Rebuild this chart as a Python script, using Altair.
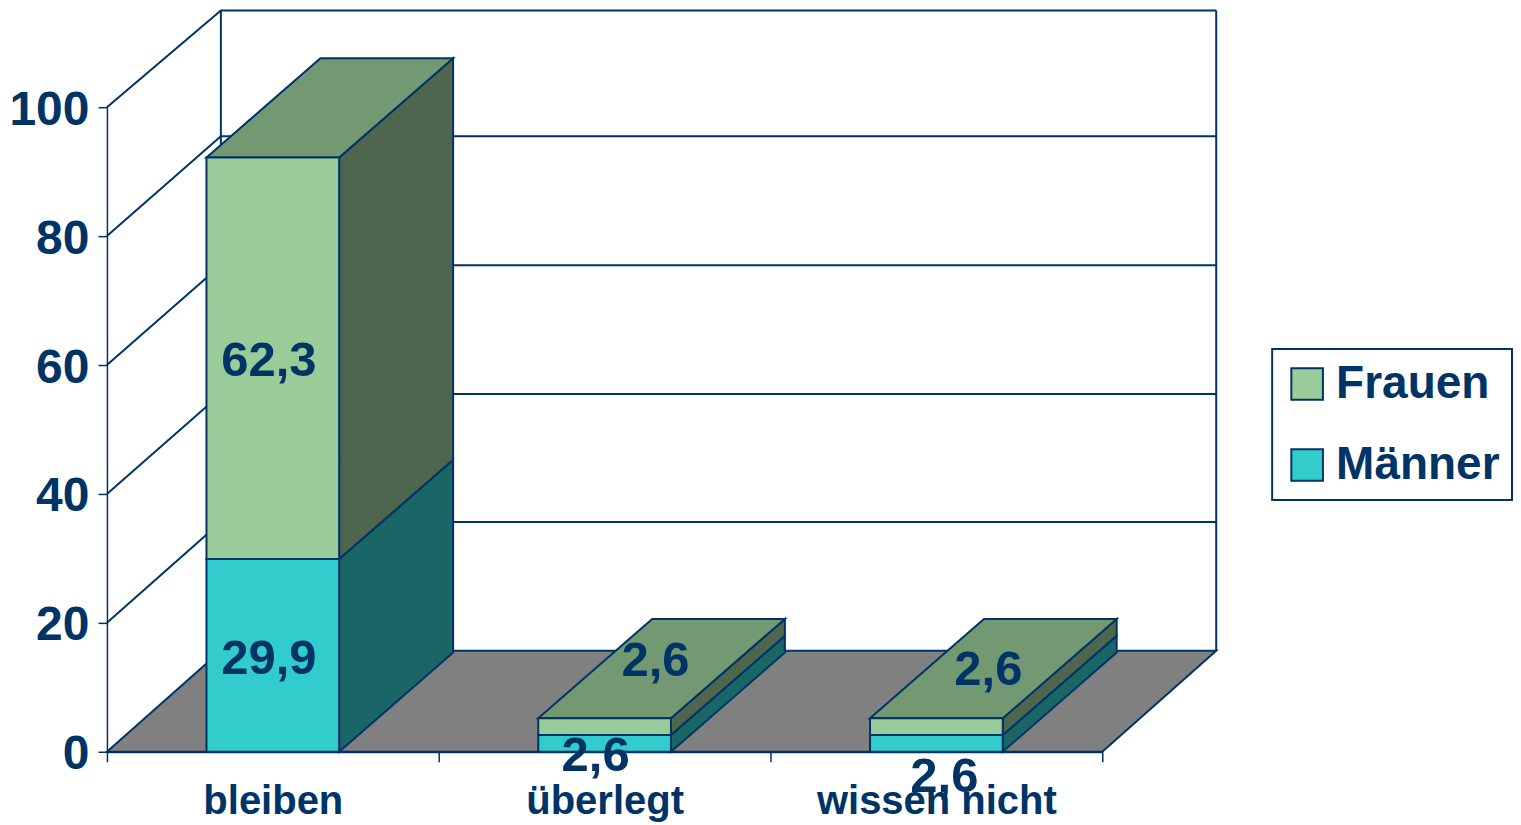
import altair as alt
import pandas as pd

categories = ["bleiben", "überlegt", "wissen nicht"]
series_names = ["Frauen", "Männer"]
maenner = [29.9, 2.6, 2.6]
frauen = [62.3, 2.6, 2.6]
label_text = ["62,3", "29,9", "2,6", "2,6", "2,6", "2,6"]

y_ticks = [0, 20, 40, 60, 80, 100]
wall_levels = [15.66, 35.66, 55.5, 75.5, 95.5, 115.0]
left_levels = [0, 20, 40, 60, 80, 100]

# pseudo-3D projection, in data units
DEPTH_X = 0.3434
DEPTH_Y = 15.4
BAR_HALF = 0.2
N = len(categories)

NAVY = "#003366"
FONT = "Liberation Sans"
front_colors = ["#99CC99", "#33CCCC"]
side_colors = {"Frauen": "#4D664D", "Männer": "#1A6666"}
top_color = "#739973"
floor_color = "#808080"

front, side, top = [], [], []
for i, cat in enumerate(categories):
    c = i + 0.5
    x0, x1 = c - BAR_HALF, c + BAR_HALF
    for name, lo, hi in (("Männer", 0, maenner[i]), ("Frauen", maenner[i], maenner[i] + frauen[i])):
        front.append(dict(series=name, x=x0, x2=x1, y=lo, y2=hi))
        side.append(dict(id=f"{i}{name}", series=name, x=x1, y=lo, y2=hi))
        side.append(dict(id=f"{i}{name}", series=name, x=x1 + DEPTH_X, y=lo + DEPTH_Y, y2=hi + DEPTH_Y))
    t = maenner[i] + frauen[i]
    top.append(dict(id=i, y=t, x=x0, x2=x1))
    top.append(dict(id=i, y=t + DEPTH_Y, x=x0 + DEPTH_X, x2=x1 + DEPTH_X))

xs = alt.Scale(domain=[0, N], nice=False, zero=False)
ys = alt.Scale(domain=[0, 100], nice=False, zero=False)
X = lambda **k: alt.X("x:Q", scale=xs, title=None, **k)
Y = lambda **k: alt.Y("y:Q", scale=ys, title=None, **k)

label_expr = "[" + ",".join(f"'{c}'" for c in categories) + ",''][datum.value]"
x_axis = alt.Axis(values=list(range(N + 1)), labelExpr=label_expr, labelOffset=166, labelFont=FONT,
                  labelFontWeight="bold", labelFontSize=40, labelColor=NAVY, labelPadding=20, labelLimit=600,
                  labelOverlap=False, labelBound=False, labelFlush=False, grid=False, domainColor=NAVY, domainWidth=2,
                  tickColor=NAVY, tickWidth=1.5, tickSize=10)
y_axis = alt.Axis(values=y_ticks, labelFont=FONT, labelFontWeight="bold", labelFontSize=48, labelColor=NAVY,
                  labelPadding=9, labelOffset=3, labelOverlap=False, labelBound=False, labelFlush=False, grid=False,
                  domainColor=NAVY, domainWidth=1.5, tickColor=NAVY, tickWidth=1.5, tickSize=9)

# walls: grid polylines left wall -> back wall
wall = []
for j, (l, b) in enumerate(zip(left_levels, wall_levels)):
    if j == 0:
        continue
    wall.append(dict(id=f"g{j}", o=0, x=0, y=l))
    wall.append(dict(id=f"g{j}", o=1, x=DEPTH_X, y=b))
    wall.append(dict(id=f"g{j}", o=2, x=N + DEPTH_X, y=b))
wall.append(dict(id="v0", o=0, x=DEPTH_X, y=wall_levels[0]))
wall.append(dict(id="v0", o=1, x=DEPTH_X, y=wall_levels[-1]))
wall.append(dict(id="v1", o=0, x=N + DEPTH_X, y=wall_levels[0]))
wall.append(dict(id="v1", o=1, x=N + DEPTH_X, y=wall_levels[-1]))

floor = [dict(id=0, y=0, x=0, x2=N), dict(id=0, y=wall_levels[0], x=DEPTH_X, x2=N + DEPTH_X)]

axes_layer = alt.Chart(pd.DataFrame(wall)).mark_line(color=NAVY, strokeWidth=2).encode(
    x=X(axis=x_axis), y=Y(axis=y_axis), detail="id:N", order="o:Q")

floor_layer = alt.Chart(pd.DataFrame(floor)).mark_area(
    orient="horizontal", color=floor_color, stroke=NAVY, strokeWidth=2).encode(
    y=Y(), x=X(), x2="x2:Q", detail="id:N")

side_layers = []
for name in ["Männer", "Frauen"]:
    d = pd.DataFrame([r for r in side if r["series"] == name])
    side_layers.append(alt.Chart(d).mark_area(
        orient="vertical", color=side_colors[name], stroke=NAVY, strokeWidth=2).encode(
        x=X(), y=Y(), y2="y2:Q", detail="id:N"))

top_layer = alt.Chart(pd.DataFrame(top)).mark_area(
    orient="horizontal", color=top_color, stroke=NAVY, strokeWidth=2).encode(
    y=Y(), x=X(), x2="x2:Q", detail="id:N")

legend = alt.Legend(title=None, orient="none", legendX=1166, legendY=242, symbolType="square", symbolSize=1000,
                    symbolStrokeColor=NAVY, symbolStrokeWidth=2, labelFont=FONT, labelFontWeight="bold",
                    labelFontSize=46, labelColor=NAVY, labelOffset=6, padding=12, rowPadding=35,
                    strokeColor=NAVY, fillColor="white", labelLimit=400)
front_layer = alt.Chart(pd.DataFrame(front)).mark_rect(stroke=NAVY, strokeWidth=2).encode(
    x=X(), x2="x2:Q", y=Y(), y2="y2:Q",
    color=alt.Color("series:N", scale=alt.Scale(domain=series_names, range=front_colors), legend=legend))

# value labels: (category index, segment bottom, segment top, text, dx, dy)
placements = [(0, 29.9, 92.2, 0, -4, 3), (0, 0, 29.9, 1, -4, 4), (1, 2.6, 5.2, 2, 51, -66),
              (1, 0, 2.6, 3, -9, 13), (2, 2.6, 5.2, 4, 52, -57), (2, 0, 2.6, 5, 8, 34)]
text_layers = []
for i, lo, hi, t, dx, dy in placements:
    d = pd.DataFrame([dict(x=i + 0.5, y=(lo + hi) / 2, t=label_text[t])])
    text_layers.append(alt.Chart(d).mark_text(font=FONT, fontWeight="bold", fontSize=49, color=NAVY,
                                              dx=dx, dy=dy).encode(x=X(), y=Y(), text="t:N"))

chart = alt.layer(axes_layer, floor_layer, *side_layers, top_layer, front_layer, *text_layers).properties(
    width=996, height=645, padding={"left": 0, "top": -2, "right": 0, "bottom": 6}
).configure_view(stroke=None).configure_legend(strokeWidth=2)

chart.save("out.html", embed_options={"renderer": "svg", "actions": False})
